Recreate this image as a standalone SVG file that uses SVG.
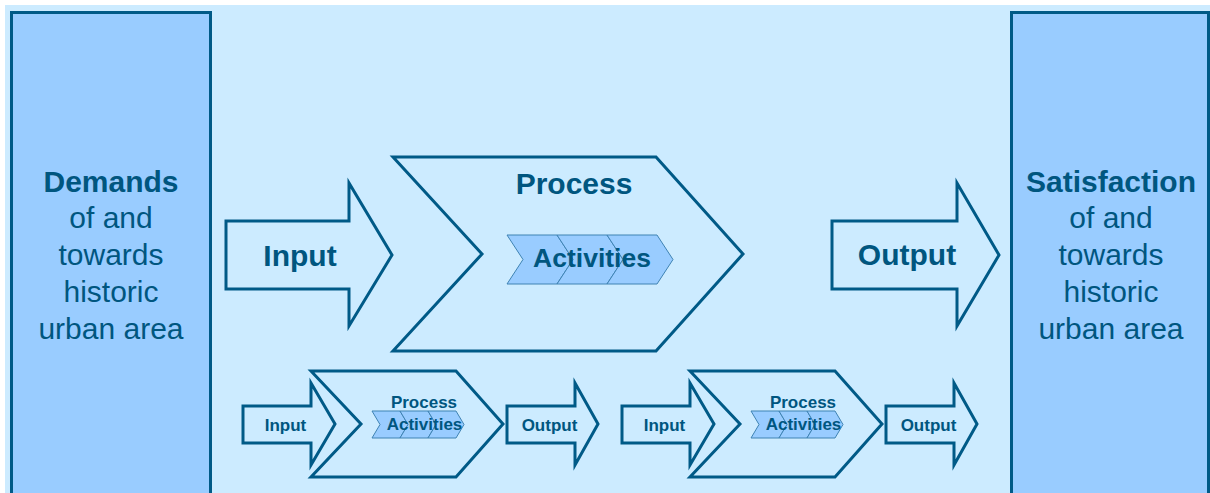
<svg xmlns="http://www.w3.org/2000/svg" width="1210" height="493" viewBox="0 0 1210 493">
<style>
.bg{fill:#CCEBFF}
.side{fill:#99CCFF;stroke:#005A87;stroke-width:3}
.shape{fill:#CCEBFF;stroke:#005A87;stroke-width:3;stroke-linejoin:miter}
.act{fill:#99CCFF;stroke:#3F83B3;stroke-width:1}
text{font-family:"Liberation Sans",Arial,sans-serif;fill:#00567F;text-anchor:middle}
.b{font-weight:bold}
</style>
<defs>
<path id="chev" d="M0,0 H50 L66,24.5 L50,49 H0 L16,24.5 Z"/>
<path id="chevs" d="M0,0 H28 L36,13.5 L28,27 H0 L8,13.5 Z"/>
</defs>
<rect width="1210" height="493" fill="#FFFFFF"/>
<rect class="bg" x="5" y="5" width="1205" height="488"/>
<g id="demands">
<rect class="side" x="11.5" y="12.5" width="199" height="500"/>
<text x="111" y="192" font-size="30" class="b">Demands</text>
<text x="111" y="228" font-size="30">of and</text>
<text x="111" y="265" font-size="30">towards</text>
<text x="111" y="302" font-size="30">historic</text>
<text x="111" y="339" font-size="30">urban area</text>
</g>
<g id="satisfaction">
<rect class="side" x="1011.5" y="12.5" width="197" height="500"/>
<text x="1111" y="192" font-size="30" class="b">Satisfaction</text>
<text x="1111" y="228" font-size="30">of and</text>
<text x="1111" y="265" font-size="30">towards</text>
<text x="1111" y="302" font-size="30">historic</text>
<text x="1111" y="339" font-size="30">urban area</text>
</g>
<g id="connectors">
<g id="input-main">
<path class="shape" d="M226,221 H349 V183 L392,255 L349,326 V289 H226 Z"/>
<text x="300" y="266" font-size="30" class="b">Input</text>
</g>
<g id="output-main">
<path class="shape" d="M832,221 H957 V183 L999,255 L957,326 V289 H832 Z"/>
<text x="907" y="265" font-size="30" class="b">Output</text>
</g>
</g>
<g id="process-main">
<path class="shape" d="M393,157 H656 L743,254 L656,351 H393 L482,254 Z"/>
<text x="574" y="194" font-size="30" class="b">Process</text>
<use href="#chev" class="act" x="507" y="235"/>
<use href="#chev" class="act" x="557" y="235"/>
<use href="#chev" class="act" x="607" y="235"/>
<text x="592" y="267" font-size="26.5" class="b">Activities</text>
</g>
<g id="sub-process-1">
<path class="shape" d="M243,406 H311 V383 L335,424 L311,465 V443 H243 Z"/>
<text x="285.5" y="431" font-size="17" class="b">Input</text>
<path class="shape" d="M311,371 H456 L503,424 L456,477 H311 L361,424 Z"/>
<text x="424" y="408" font-size="17" class="b">Process</text>
<use href="#chevs" class="act" x="372" y="411"/>
<use href="#chevs" class="act" x="400" y="411"/>
<use href="#chevs" class="act" x="428" y="411"/>
<text x="424.5" y="430" font-size="17" class="b">Activities</text>
<path class="shape" d="M507,406 H575 V383 L598,424 L575,465 V443 H507 Z"/>
<text x="549.5" y="431" font-size="17" class="b">Output</text>
</g>
<g id="sub-process-2" transform="translate(379,0)">
<path class="shape" d="M243,406 H311 V383 L335,424 L311,465 V443 H243 Z"/>
<text x="285.5" y="431" font-size="17" class="b">Input</text>
<path class="shape" d="M311,371 H456 L503,424 L456,477 H311 L361,424 Z"/>
<text x="424" y="408" font-size="17" class="b">Process</text>
<use href="#chevs" class="act" x="372" y="411"/>
<use href="#chevs" class="act" x="400" y="411"/>
<use href="#chevs" class="act" x="428" y="411"/>
<text x="424.5" y="430" font-size="17" class="b">Activities</text>
<path class="shape" d="M507,406 H575 V383 L598,424 L575,465 V443 H507 Z"/>
<text x="549.5" y="431" font-size="17" class="b">Output</text>
</g>
</svg>
